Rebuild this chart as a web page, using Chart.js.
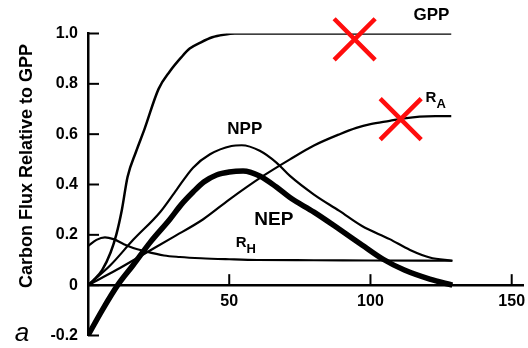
<!DOCTYPE html>
<html>
<head>
<meta charset="utf-8">
<style>
  html, body { margin: 0; padding: 0; background: #fff; }
  #wrap { width: 528px; height: 348px; }
</style>
</head>
<body>
<div id="wrap"><canvas id="grafico"></canvas></div>
<script src="https://cdn.jsdelivr.net/npm/chart.js"></script>
<script>
  // values (stand age vs. flux relative to GPP)
  const gppX = [0, 2, 5, 8, 10, 12, 14, 17, 20, 25, 29, 33, 36, 40, 44, 48, 52, 60, 128.6];
  const gppY = [0, 0.02, 0.06, 0.13, 0.2, 0.3, 0.43, 0.53, 0.62, 0.78, 0.85, 0.905, 0.94, 0.965, 0.985, 0.995, 1.0, 1.0, 1.0];

  const raX = [0, 10, 20, 30, 40.8, 50, 62, 71.5, 80, 89.1, 95, 100, 106.8, 112, 117.4, 123, 128.6];
  const raY = [0, 0.06, 0.125, 0.19, 0.262, 0.34, 0.434, 0.5, 0.555, 0.6, 0.625, 0.64, 0.653, 0.663, 0.67, 0.672, 0.672];

  const nppX = [0, 8, 16, 25.5, 31.4, 37.2, 43.2, 50.8, 54.4, 60.8, 66.7, 71.5, 80, 89, 97, 106.8, 114, 121, 129];
  const nppY = [0, 0.08, 0.18, 0.29, 0.38, 0.467, 0.52, 0.553, 0.556, 0.534, 0.487, 0.434, 0.36, 0.295, 0.235, 0.183, 0.14, 0.11, 0.097];

  const nepX = [0, 5, 10.5, 16, 22, 29, 33, 37.2, 41, 45.5, 50, 54.9, 60.8, 66.7, 71.5, 80, 89, 97, 104.5, 112, 121, 129];
  const nepY = [-0.2, -0.1, 0, 0.08, 0.17, 0.262, 0.32, 0.37, 0.41, 0.438, 0.45, 0.454, 0.434, 0.39, 0.348, 0.29, 0.222, 0.16, 0.103, 0.06, 0.024, 0];

  const rhX = [0, 3, 6, 9, 12.7, 16, 19.8, 26.9, 32.5, 40, 50, 60, 80, 100, 129];
  const rhY = [0.155, 0.18, 0.19, 0.183, 0.163, 0.148, 0.136, 0.118, 0.112, 0.107, 0.103, 0.1, 0.099, 0.098, 0.097];

  // red crosses drawn over the figure
  const cruzX = [94.4, 110.7];
  const cruzY = [0.977, 0.66];

  const xTicks = [50, 100, 150];
  const yTicks = [-0.2, 0, 0.2, 0.4, 0.6, 0.8, 1.0];
  const yTickLabels = ['-0.2', '0', '0.2', '0.4', '0.6', '0.8', '1.0'];

  // curve labels: text, subscript, data position
  const rotulos = [
    { t: 'GPP', sub: '', x: 121.6, y: 1.072, size: 17 },
    { t: 'NPP', sub: '', x: 55.5, y: 0.619, size: 17 },
    { t: 'NEP', sub: '', x: 65.8, y: 0.261, size: 19 },
    { t: 'R', sub: 'A', x: 119.5, y: 0.729, size: 15 },
    { t: 'R', sub: 'H', x: 52.3, y: 0.152, size: 15 }
  ];

  const pares = (xs, ys) => xs.map((v, k) => ({ x: v, y: ys[k] }));
  const fonte = '"Liberation Sans", Arial, Helvetica, sans-serif';

  function linha(dados, largura) {
    return {
      type: 'line',
      data: dados,
      borderColor: '#000',
      borderWidth: largura,
      pointRadius: 0,
      fill: false,
      cubicInterpolationMode: 'monotone'
    };
  }

  const extras = {
    id: 'extras',
    afterDraw(chart) {
      const ctx = chart.ctx, sx = chart.scales.x, sy = chart.scales.y;
      const y0 = sy.getPixelForValue(0);
      ctx.save();
      ctx.strokeStyle = '#000';
      ctx.lineWidth = 2;
      yTicks.forEach(v => {
        const py = sy.getPixelForValue(v);
        ctx.beginPath(); ctx.moveTo(sx.left, py); ctx.lineTo(sx.left + 11, py); ctx.stroke();
      });
      xTicks.forEach(v => {
        const px = sx.getPixelForValue(v);
        ctx.beginPath(); ctx.moveTo(px, y0); ctx.lineTo(px, y0 - 11); ctx.stroke();
      });

      ctx.fillStyle = '#000';
      ctx.textBaseline = 'alphabetic';
      rotulos.forEach(r => {
        const px = sx.getPixelForValue(r.x), py = sy.getPixelForValue(r.y);
        ctx.font = 'bold ' + r.size + 'px ' + fonte;
        if (r.sub) {
          ctx.textAlign = 'left';
          ctx.fillText(r.t, px, py);
          const w = ctx.measureText(r.t).width;
          ctx.font = 'bold ' + (r.size - 2) + 'px ' + fonte;
          ctx.fillText(r.sub, px + w, py + 6);
        } else {
          ctx.textAlign = 'center';
          ctx.textBaseline = 'middle';
          ctx.fillText(r.t, px, py);
          ctx.textBaseline = 'alphabetic';
        }
      });

      // y axis title
      ctx.save();
      ctx.translate(27, 166);
      ctx.rotate(-Math.PI / 2);
      ctx.font = 'bold 18px ' + fonte;
      ctx.textAlign = 'center';
      ctx.textBaseline = 'middle';
      ctx.fillText('Carbon Flux Relative to GPP', 0, 0);
      ctx.restore();

      // panel letter
      ctx.font = 'italic 26px ' + fonte;
      ctx.textAlign = 'center';
      ctx.textBaseline = 'middle';
      ctx.fillText('a', 22, 334);
      ctx.restore();
    }
  };

  new Chart(document.getElementById('grafico'), {
    type: 'line',
    data: {
      datasets: [
        {
          type: 'scatter',
          data: pares(cruzX, cruzY),
          pointStyle: 'crossRot',
          pointRadius: 29,
          pointBorderWidth: 4.5,
          pointBorderColor: '#ff0d0d',
          borderColor: '#ff0d0d',
          showLine: false,
          clip: false
        },
        linha(pares(nepX, nepY), 5.5),
        linha(pares(nppX, nppY), 2.2),
        linha(pares(raX, raY), 2.2),
        linha(pares(rhX, rhY), 2.2),
        linha(pares(gppX, gppY), 2.5)
      ]
    },
    options: {
      responsive: true,
      maintainAspectRatio: false,
      animation: false,
      layout: { autoPadding: false, padding: { left: 0, top: 33.5, right: 5, bottom: 12.5 } },
      plugins: { legend: { display: false }, tooltip: { enabled: false } },
      scales: {
        x: {
          type: 'linear',
          position: { y: 0 },
          min: 0,
          max: 154,
          afterBuildTicks: s => { s.ticks = xTicks.map(v => ({ value: v })); },
          afterFit: s => { s.paddingLeft = 0; s.paddingRight = 0; },
          grid: { display: false, drawTicks: false },
          border: { display: true, color: '#000', width: 2.5 },
          ticks: { color: '#000', padding: 7, font: { family: fonte, size: 16, weight: 'bold' } }
        },
        y: {
          type: 'linear',
          min: -0.2,
          max: 1.0,
          afterBuildTicks: s => { s.ticks = yTicks.map(v => ({ value: v })); },
          afterFit: s => { s.width = 88; s.paddingTop = 0; s.paddingBottom = 0; },
          grid: { display: false, drawTicks: false },
          border: { display: true, color: '#000', width: 2.5 },
          ticks: {
            color: '#000',
            padding: 10,
            font: { family: fonte, size: 16, weight: 'bold' },
            callback: (v, k) => yTickLabels[k]
          }
        }
      }
    },
    plugins: [extras]
  });
</script>
</body>
</html>
